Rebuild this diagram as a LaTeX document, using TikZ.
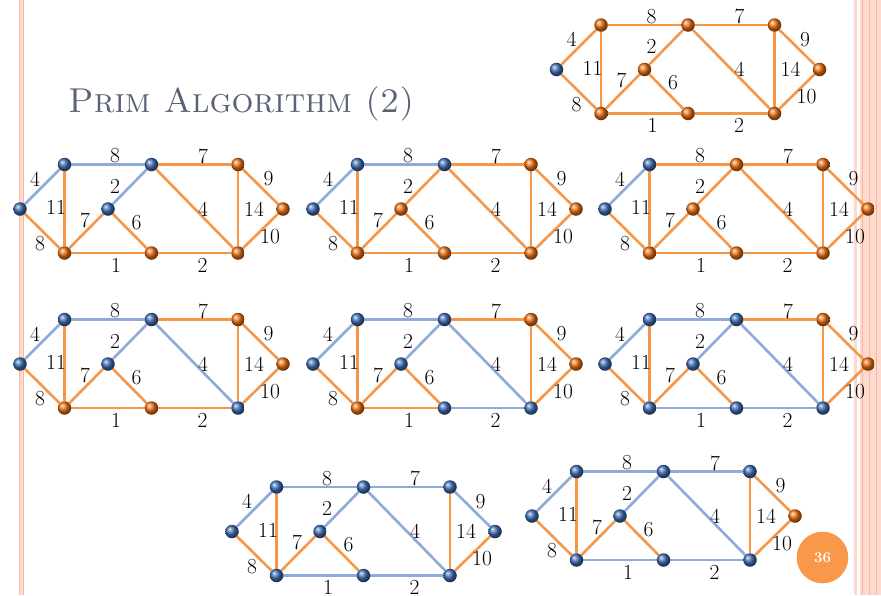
\documentclass[tikz,border=0pt]{standalone}
\pgfdeclarelayer{back}
\pgfdeclarelayer{bg}
\pgfsetlayers{back,bg,main}
\definecolor{oEdge}{RGB}{247,150,70}
\definecolor{bEdge}{RGB}{142,170,219}
\definecolor{oNode}{RGB}{236,112,18}
\definecolor{bNode}{RGB}{62,110,180}
\definecolor{titleC}{RGB}{89,99,117}
\definecolor{pageC}{RGB}{249,152,72}
\definecolor{stripeL}{RGB}{253,218,205}
\definecolor{stripeD}{RGB}{248,185,160}
\tikzset{
  x=1pt, y=-1pt,
  edgeO/.style={draw=oEdge, line width=2.6pt},
  edgeB/.style={draw=bEdge, line width=2.6pt},
  vtxO/.style={circle, inner sep=0pt, minimum size=13.5pt, ball color=oNode},
  vtxB/.style={circle, inner sep=0pt, minimum size=13.5pt, ball color=bNode},
  lbl/.style={font=\fontsize{21.5}{22}\selectfont, inner sep=0pt, text=black},
  n-a/.style={vtxO}, n-b/.style={vtxO}, n-c/.style={vtxO}, n-d/.style={vtxO},
  n-e/.style={vtxO}, n-f/.style={vtxO}, n-g/.style={vtxO}, n-h/.style={vtxO},
  n-i/.style={vtxO},
  e-ab/.style={edgeO}, e-ah/.style={edgeO}, e-bh/.style={edgeO}, e-bc/.style={edgeO},
  e-ci/.style={edgeO}, e-hi/.style={edgeO}, e-ig/.style={edgeO}, e-hg/.style={edgeO},
  e-gf/.style={edgeO}, e-cf/.style={edgeO}, e-cd/.style={edgeO}, e-df/.style={edgeO},
  e-de/.style={edgeO}, e-ef/.style={edgeO},
  bn/.style={n-#1/.style={vtxB}},
  be/.style={e-#1/.style={edgeB}},
}
\newcommand\primgraph[1]{%
  \node[n-a] (#1a) at (0,0) {};
  \node[n-b] (#1b) at (44.5,-44.5) {};
  \node[n-c] (#1c) at (131.5,-44.5) {};
  \node[n-d] (#1d) at (218,-44.5) {};
  \node[n-e] (#1e) at (263,0) {};
  \node[n-f] (#1f) at (218,44) {};
  \node[n-g] (#1g) at (131.5,44) {};
  \node[n-h] (#1h) at (44.5,44) {};
  \node[n-i] (#1i) at (88,0) {};
  \begin{pgfonlayer}{bg}
    \draw[e-ab] (#1a) -- (#1b);
    \draw[e-ah] (#1a) -- (#1h);
    \draw[e-bh] (#1b) -- (#1h);
    \draw[e-bc] (#1b) -- (#1c);
    \draw[e-ci] (#1c) -- (#1i);
    \draw[e-hi] (#1h) -- (#1i);
    \draw[e-ig] (#1i) -- (#1g);
    \draw[e-hg] (#1h) -- (#1g);
    \draw[e-gf] (#1g) -- (#1f);
    \draw[e-cf] (#1c) -- (#1f);
    \draw[e-cd] (#1c) -- (#1d);
    \draw[e-df] (#1d) -- (#1f);
    \draw[e-de] (#1d) -- (#1e);
    \draw[e-ef] (#1e) -- (#1f);
  \end{pgfonlayer}
  \node[lbl] (#1Lab) at (15,-30) {4};
  \node[lbl] (#1Lah) at (20,35) {8};
  \node[lbl] (#1Lbh) at (36,-1.5) {11};
  \node[lbl] (#1Lbc) at (95,-53) {8};
  \node[lbl] (#1Lci) at (95,-23) {2};
  \node[lbl] (#1Lhi) at (65,11) {7};
  \node[lbl] (#1Lig) at (116.5,13.5) {6};
  \node[lbl] (#1Lhg) at (96,56) {1};
  \node[lbl] (#1Lgf) at (182.5,56) {2};
  \node[lbl] (#1Lcf) at (183,0) {4};
  \node[lbl] (#1Lcd) at (183,-53) {7};
  \node[lbl] (#1Ldf) at (234,0) {14};
  \node[lbl] (#1Lde) at (248.5,-30) {9};
  \node[lbl] (#1Lef) at (250,27.5) {10};
}
\begin{document}
\begin{tikzpicture}
\useasboundingbox (0,0) rectangle (881,595);
\begin{pgfonlayer}{back}
\fill[white] (0,0) rectangle (881,595);
% left rule
\fill[stripeL] (18.5,0) rectangle (23.5,595);
\draw[stripeD, line width=0.9pt] (19,0) -- (19,595);
\draw[stripeD, line width=0.9pt] (23,0) -- (23,595);
% right stripes
\fill[stripeL] (853.5,0) rectangle (856.5,595);
\fill[stripeL] (860,0) rectangle (881,595);
\draw[stripeD, line width=1pt] (862.5,0) -- (862.5,595);
\draw[stripeD, line width=1pt] (869.5,0) -- (869.5,595);
\draw[stripeD, line width=1pt] (876.5,0) -- (876.5,595);
\end{pgfonlayer}
% title
\node[anchor=base west, inner sep=0pt, text=titleC, font=\fontsize{34.5}{35}\selectfont] (title) at (68,112) {\textsc{Prim Algorithm (2)}};
% graphs
\begin{scope}[shift={(556.5,69.5)}, bn=a]
  \primgraph{G0}
\end{scope}
\begin{scope}[shift={(20,209)}, bn/.list={a,b,c,i}, be/.list={ab,bc,ci}]
  \primgraph{G1}
\end{scope}
\begin{scope}[shift={(313,209)}, bn/.list={a,b,c}, be/.list={ab,bc}]
  \primgraph{G2}
\end{scope}
\begin{scope}[shift={(605,209)}, bn/.list={a,b}, be/.list={ab}]
  \primgraph{G3}
\end{scope}
\begin{scope}[shift={(20,364)}, bn/.list={a,b,c,i,f}, be/.list={ab,bc,ci,cf}]
  \primgraph{G4}
\end{scope}
\begin{scope}[shift={(313,364)}, bn/.list={a,b,c,i,f,g}, be/.list={ab,bc,ci,cf,gf}]
  \primgraph{G5}
\end{scope}
\begin{scope}[shift={(605,364)}, bn/.list={a,b,c,i,f,g,h}, be/.list={ab,bc,ci,cf,gf,hg}]
  \primgraph{G6}
\end{scope}
\begin{scope}[shift={(232,531.5)}, bn/.list={a,b,c,d,e,f,g,h,i}, be/.list={ab,bc,ci,cf,gf,hg,cd,de}]
  \primgraph{G7}
\end{scope}
\begin{scope}[shift={(532,516)}, bn/.list={a,b,c,d,f,g,h,i}, be/.list={ab,bc,ci,cf,gf,hg,cd}]
  \primgraph{G8}
\end{scope}
% page number
\node[circle, fill=pageC, minimum size=51.6pt, inner sep=0pt, text=white, font=\bfseries\fontsize{15}{15}\selectfont] (pnum) at (822.5,557.5) {36};
\end{tikzpicture}
\end{document}
